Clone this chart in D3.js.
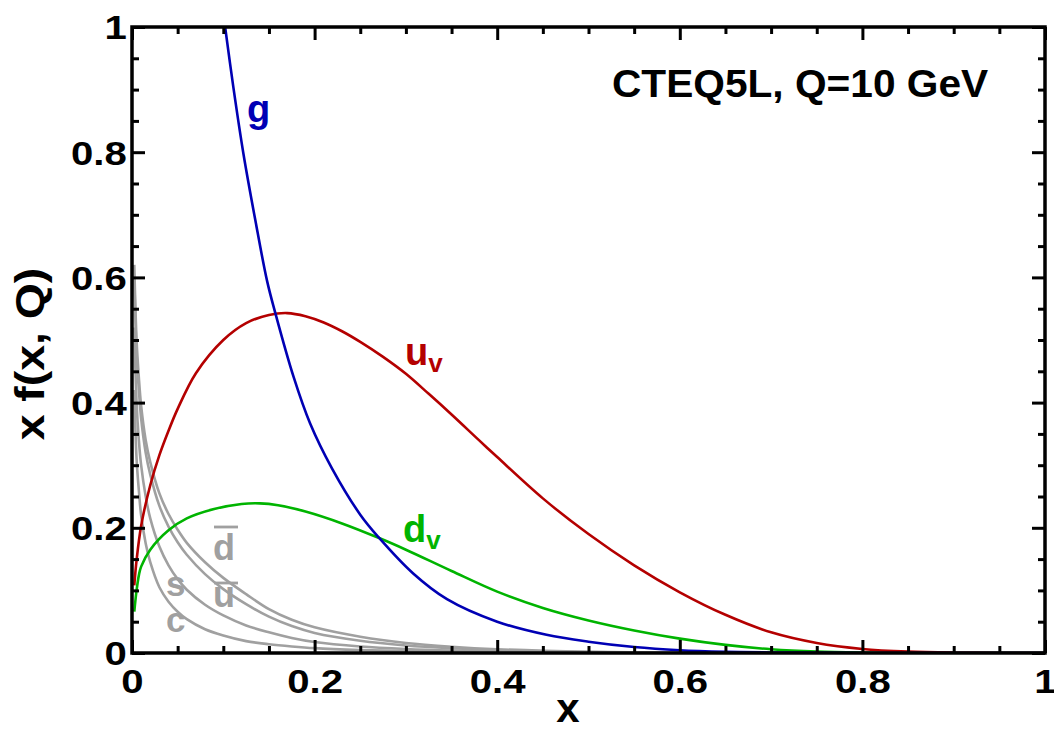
<!DOCTYPE html>
<html>
<head>
<meta charset="utf-8">
<script src="https://cdn.jsdelivr.net/npm/d3@7"></script>
<style>
  html, body { margin: 0; padding: 0; background: #fff; }
  svg { display: block; font-family: "Liberation Sans", Arial, Helvetica, sans-serif; font-weight: bold; }
</style>
</head>
<body>
<svg id="chart" width="1054" height="742"></svg>
<script>
// ---------- data ----------
const title = "CTEQ5L, Q=10 GeV";
const xTitle = "x";
const yTitle = "x f(x, Q)";
const majorTicks = [0, 0.2, 0.4, 0.6, 0.8, 1];
const minorTicks = [0.05, 0.1, 0.15, 0.25, 0.3, 0.35, 0.45, 0.5, 0.55, 0.65, 0.7, 0.75, 0.85, 0.9, 0.95];
const tickLabels = ["0", "0.2", "0.4", "0.6", "0.8", "1"];

// gluon
const xG = [0.102, 0.111, 0.122, 0.135, 0.148, 0.157, 0.177, 0.195, 0.219, 0.25, 0.27, 0.308, 0.345, 0.4, 0.454, 0.5, 0.55, 0.6, 0.65, 0.7, 0.8, 0.9, 1.0];
const gVal = [1.0, 0.904, 0.798, 0.692, 0.594, 0.543, 0.441, 0.367, 0.295, 0.221, 0.185, 0.127, 0.086, 0.050, 0.029, 0.018, 0.0095, 0.0045, 0.002, 0.0008, 0.0001, 0, 0];

// u valence
const xUv = [0.0025, 0.005, 0.01, 0.02, 0.03, 0.04, 0.05, 0.07, 0.1, 0.125, 0.15, 0.17, 0.19, 0.21, 0.23, 0.25, 0.275, 0.3, 0.325, 0.35, 0.38, 0.4, 0.45, 0.5, 0.55, 0.6, 0.65, 0.7, 0.75, 0.8, 0.85, 0.9, 0.95, 1.0];
const uvVal = [0.108, 0.148, 0.203, 0.268, 0.316, 0.355, 0.390, 0.447, 0.500, 0.527, 0.540, 0.543, 0.538, 0.528, 0.514, 0.497, 0.473, 0.446, 0.414, 0.381, 0.340, 0.313, 0.247, 0.190, 0.140, 0.097, 0.061, 0.033, 0.016, 0.0065, 0.0022, 0.0005, 0, 0];

// d valence
const xDv = [0.0025, 0.005, 0.0075, 0.01, 0.02, 0.04, 0.06, 0.09, 0.12, 0.14, 0.16, 0.19, 0.23, 0.27, 0.3, 0.35, 0.4, 0.45, 0.5, 0.55, 0.6, 0.65, 0.7, 0.75, 0.8, 0.85, 1.0];
const dvVal = [0.066, 0.10, 0.124, 0.138, 0.165, 0.196, 0.215, 0.230, 0.238, 0.239, 0.236, 0.226, 0.207, 0.184, 0.165, 0.131, 0.098, 0.072, 0.052, 0.036, 0.023, 0.013, 0.006, 0.0022, 0.0006, 0, 0];

// sea quarks
const xSea = [0.0025, 0.005, 0.0075, 0.01, 0.015, 0.02, 0.03, 0.04, 0.05, 0.06, 0.08, 0.1, 0.125, 0.15, 0.175, 0.2, 0.25, 0.3, 0.35, 0.4, 0.5, 0.6, 0.7, 1.0];
const dbarVal = [0.62, 0.50, 0.44, 0.395, 0.34, 0.305, 0.255, 0.222, 0.197, 0.176, 0.145, 0.12, 0.094, 0.070, 0.053, 0.041, 0.026, 0.016, 0.010, 0.006, 0.002, 0.0006, 0, 0];
const ubarVal = [0.60, 0.48, 0.42, 0.375, 0.32, 0.285, 0.235, 0.202, 0.177, 0.157, 0.126, 0.102, 0.078, 0.058, 0.043, 0.032, 0.0195, 0.012, 0.0075, 0.0045, 0.0015, 0.0004, 0, 0];
const sVal = [0.52, 0.40, 0.34, 0.30, 0.25, 0.215, 0.17, 0.14, 0.118, 0.101, 0.077, 0.06, 0.044, 0.033, 0.024, 0.0175, 0.0105, 0.0065, 0.004, 0.0024, 0.0007, 0.0001, 0, 0];
const cVal = [0.42, 0.31, 0.26, 0.22, 0.175, 0.145, 0.105, 0.082, 0.066, 0.054, 0.038, 0.028, 0.019, 0.014, 0.0105, 0.0078, 0.0048, 0.003, 0.0018, 0.0011, 0.0003, 0, 0, 0];

const colors = { g: "#0000b4", uv: "#b40000", dv: "#00b400", sea: "#a0a0a0" };

// ---------- layout ----------
const svg = d3.select("#chart");
svg.append("rect").attr("width", 1054).attr("height", 742).attr("fill", "#fff");
const L = 132, R = 1045, T = 27, B = 653;
const x = d3.scaleLinear().domain([0, 1]).range([L, R]);
const y = d3.scaleLinear().domain([0, 1]).range([B, T]);

svg.append("clipPath").attr("id", "clip")
  .append("rect").attr("x", L).attr("y", T).attr("width", R - L).attr("height", B - T);

const line = d3.line().x(d => x(d[0])).y(d => y(d[1])).curve(d3.curveCatmullRom.alpha(0.5));
const curves = svg.append("g").attr("clip-path", "url(#clip)");
function drawCurve(xs, ys, color) {
  curves.append("path")
    .datum(xs.map((v, i) => [v, ys[i]]))
    .attr("d", line)
    .attr("fill", "none")
    .attr("stroke", color)
    .attr("stroke-width", 2.6)
    .attr("stroke-linejoin", "round");
}
drawCurve(xSea, cVal, colors.sea);
drawCurve(xSea, sVal, colors.sea);
drawCurve(xSea, ubarVal, colors.sea);
drawCurve(xSea, dbarVal, colors.sea);
drawCurve(xDv, dvVal, colors.dv);
drawCurve(xUv, uvVal, colors.uv);
drawCurve(xG, gVal, colors.g);

// ---------- axes ----------
const fmt = d => tickLabels[majorTicks.indexOf(d)];
function styleAxis(g) {
  g.select(".domain").remove();
  g.selectAll(".tick line").attr("stroke", "#000").attr("stroke-width", 3);
}
const sx = 1.18;
// bottom
const gb = svg.append("g").attr("transform", `translate(0,${B})`)
  .call(d3.axisBottom(x).tickValues(majorTicks).tickSize(-13).tickPadding(16).tickFormat(fmt));
styleAxis(gb);
gb.selectAll("text").attr("font-size", 34).attr("font-family", "Liberation Sans, Arial, sans-serif")
  .attr("font-weight", "bold").attr("fill", "#000").attr("transform", `scale(${sx},1)`);
svg.append("g").attr("transform", `translate(0,${B})`)
  .call(d3.axisBottom(x).tickValues(minorTicks).tickSize(-7).tickFormat("")).call(styleAxis);
// top
svg.append("g").attr("transform", `translate(0,${T})`)
  .call(d3.axisTop(x).tickValues(majorTicks).tickSize(-13).tickFormat("")).call(styleAxis);
svg.append("g").attr("transform", `translate(0,${T})`)
  .call(d3.axisTop(x).tickValues(minorTicks).tickSize(-7).tickFormat("")).call(styleAxis);
// left
const gl = svg.append("g").attr("transform", `translate(${L},0)`)
  .call(d3.axisLeft(y).tickValues(majorTicks).tickSize(-13).tickPadding(4.5).tickFormat(fmt));
styleAxis(gl);
gl.selectAll("text").attr("font-size", 34).attr("font-family", "Liberation Sans, Arial, sans-serif")
  .attr("font-weight", "bold").attr("fill", "#000").attr("dy", "0.35em").attr("transform", `scale(${sx},1)`);
svg.append("g").attr("transform", `translate(${L},0)`)
  .call(d3.axisLeft(y).tickValues(minorTicks).tickSize(-7).tickFormat("")).call(styleAxis);
// right
svg.append("g").attr("transform", `translate(${R},0)`)
  .call(d3.axisRight(y).tickValues(majorTicks).tickSize(-13).tickFormat("")).call(styleAxis);
svg.append("g").attr("transform", `translate(${R},0)`)
  .call(d3.axisRight(y).tickValues(minorTicks).tickSize(-7).tickFormat("")).call(styleAxis);

// frame
svg.append("rect").attr("x", L).attr("y", T).attr("width", R - L).attr("height", B - T)
  .attr("fill", "none").attr("stroke", "#000").attr("stroke-width", 3.5);

// ---------- texts ----------
function label(str, px, py, size, color, opts = {}) {
  return svg.append("text")
    .attr("transform", `translate(${px},${py}) ${opts.rot ? "rotate(-90)" : ""} scale(${opts.sx || 1},1)`)
    .attr("font-size", size)
    .attr("fill", color)
    .attr("text-anchor", opts.anchor || "start")
    .text(str);
}
label(title, 612, 97, 38, "#000", { sx: 1.07 });
label(xTitle, 568, 722, 40, "#000", { anchor: "middle", sx: 1.05 });
label(yTitle, 44, 354, 40, "#000", { anchor: "middle", rot: true, sx: 1.16 });

// curve labels
label("g", 247, 122, 38, colors.g);
function sublabel(main, sub, px, py, color) {
  const t = svg.append("text")
    .attr("transform", `translate(${px},${py})`)
    .attr("font-size", 38).attr("fill", color);
  t.append("tspan").text(main);
  t.append("tspan").attr("font-size", 26).attr("dy", 7).text(sub);
}
sublabel("u", "v", 405, 365, colors.uv);
sublabel("d", "v", 403, 542, colors.dv);

label("d", 213, 560, 36, colors.sea);
label("u", 213, 607, 36, colors.sea);
label("s", 166, 596, 35, colors.sea);
label("c", 166, 632, 35, colors.sea);
// bars over anti-quark labels
svg.append("line").attr("x1", 214).attr("x2", 238).attr("y1", 527).attr("y2", 527)
  .attr("stroke", colors.sea).attr("stroke-width", 2.8);
svg.append("line").attr("x1", 214).attr("x2", 238).attr("y1", 583).attr("y2", 583)
  .attr("stroke", colors.sea).attr("stroke-width", 2.8);
</script>
</body>
</html>
